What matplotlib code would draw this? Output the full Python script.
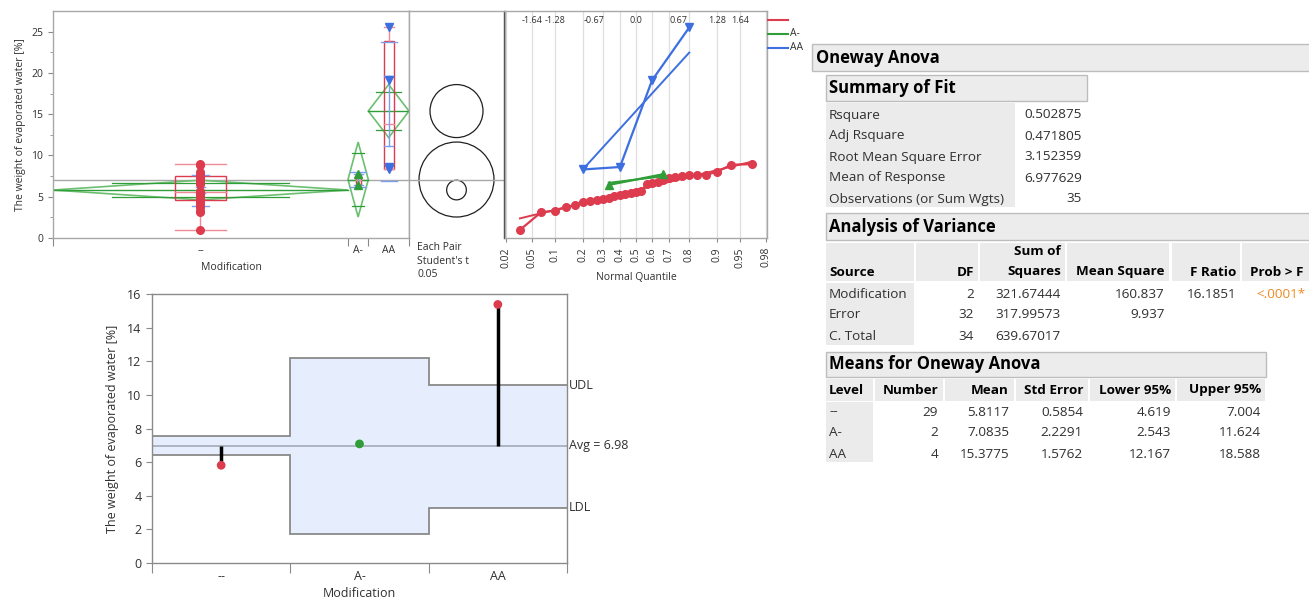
import numpy as np
import matplotlib
matplotlib.use("Agg")
import matplotlib.pyplot as plt
from matplotlib.patches import Rectangle, Circle, Polygon
from matplotlib.lines import Line2D
from statistics import NormalDist

plt.rcParams['font.family'] = ['Open Sans', 'DejaVu Sans']

W, H = 1309, 600

# raw data
levels = ["--", "A-", "AA"]
vals_none = [0.98, 3.11, 3.31, 3.71, 4.00, 4.40, 4.52, 4.64, 4.72, 4.84,
             5.12, 5.24, 5.36, 5.44, 5.57, 5.65, 6.54, 6.65, 6.78, 7.02,
             7.26, 7.42, 7.54, 7.62, 7.66, 7.66, 8.02, 8.87, 8.95]
vals_a = [6.43, 7.73]
vals_aa = [8.3, 8.6, 19.1, 25.51]
group_vals = [vals_none, vals_a, vals_aa]

# report tables
fit_labels = ["Rsquare", "Adj Rsquare", "Root Mean Square Error",
              "Mean of Response", "Observations (or Sum Wgts)"]
fit_values = ["0.502875", "0.471805", "3.152359", "6.977629", "35"]

anova_source = ["Modification", "Error", "C. Total"]
anova_df = ["2", "32", "34"]
anova_ss = ["321.67444", "317.99573", "639.67017"]
anova_ms = ["160.837", "9.937", ""]
anova_f = ["16.1851", "", ""]
anova_p = ["<.0001*", "", ""]

means_n = [29, 2, 4]
means_mean = [5.8117, 7.0835, 15.3775]
means_se = [0.5854, 2.2291, 1.5762]
means_lower = [4.619, 2.543, 12.167]
means_upper = [7.004, 11.624, 18.588]

grand_mean = 6.977629
t_crit = 2.037  # t(0.975, 32)

# decision limits
udl = [7.55, 12.22, 10.56]
ldl = [6.40, 1.70, 3.30]

RED = "#dc3c4e"
GREEN = "#2f9e38"
LGREEN = "#6cbf70"
BLUE = "#3d6fe0"
GRAY = "#8a8a8a"
LGRAY = "#a8a8a8"
TXT = "#303030"
CELL = "#ebebeb"

fig = plt.figure(figsize=(W / 100, H / 100), dpi=100)


def add_ax(x0, y0, x1, y1):
    return fig.add_axes([x0 / W, 1 - y1 / H, (x1 - x0) / W, (y1 - y0) / H])


def ftext(x, y, s, **kw):
    kw.setdefault("color", TXT)
    kw.setdefault("va", "center")
    fig.text(x / W, 1 - y / H, s, **kw)


def frect(x0, y0, x1, y1, fc, ec="none", lw=1.0):
    fig.add_artist(Rectangle((x0 / W, 1 - y1 / H), (x1 - x0) / W, (y1 - y0) / H,
                             transform=fig.transFigure, facecolor=fc,
                             edgecolor=ec, linewidth=lw))


def style_spines(ax, color=LGRAY):
    for s in ax.spines.values():
        s.set_color(color)
        s.set_linewidth(1.0)


YTOP = 27.5

# ---------------- means / box plot panel ----------------
ax1 = add_ax(53, 11, 409, 238)
edges = np.concatenate([[0], np.cumsum(means_n)])
centers = (edges[:-1] + edges[1:]) / 2
box_half = [2.5, 0.25, 0.5]
markers = ["o", "^", "v"]
pcolors = [RED, GREEN, BLUE]

ax1.axhline(grand_mean, color=LGRAY, lw=1.0, zorder=1)
for i, v in enumerate(group_vals):
    v = np.array(v)
    x0, x1, c = edges[i], edges[i + 1], centers[i]
    m, lo, up = means_mean[i], means_lower[i], means_upper[i]
    w = x1 - x0
    ax1.add_patch(Polygon([(x0, m), (c, up), (x1, m), (c, lo)], closed=True,
                          fill=False, edgecolor=LGREEN, lw=1.2, zorder=2))
    ax1.plot([x0, x1], [m, m], color=GREEN, lw=1.0, zorder=2)
    ov = (up - m) / np.sqrt(2)
    for yy in (m + ov, m - ov):
        ax1.plot([c - 0.3 * w, c + 0.3 * w], [yy, yy], color=GREEN, lw=0.9, zorder=2)
    # box plot
    q1, med, q3 = np.percentile(v, [25, 50, 75], method="weibull")
    hw = box_half[i]
    ax1.add_patch(Rectangle((c - hw, q1), 2 * hw, q3 - q1, fill=False,
                            edgecolor=RED, lw=1.0, zorder=3))
    ax1.plot([c - hw, c + hw], [med, med], color="#f08a96", lw=1.0, zorder=3)
    ax1.plot([c, c], [v.min(), q1], color="#f08a96", lw=1.0, zorder=3)
    ax1.plot([c, c], [q3, v.max()], color="#f08a96", lw=1.0, zorder=3)
    for yy in (v.min(), v.max()):
        ax1.plot([c - hw, c + hw], [yy, yy], color="#f08a96", lw=1.0, zorder=3)
    # std dev lines and mean error bars
    sd = v.std(ddof=1)
    se = sd / np.sqrt(len(v))
    for yy in (m - sd, m + sd):
        ax1.plot([c - 0.8, c + 0.8], [yy, yy], color="#7d9ff0", lw=1.0, zorder=4)
    ax1.plot([c, c], [m - se, m + se], color="#7d9ff0", lw=1.0, zorder=4)
    for yy in (m - se, m + se):
        ax1.plot([c - 0.45, c + 0.45], [yy, yy], color="#7d9ff0", lw=1.0, zorder=4)
    ax1.plot(np.full(len(v), c), v, linestyle="none", marker=markers[i],
             color=pcolors[i], ms=5.5, zorder=5)

ax1.set_xlim(0, edges[-1])
ax1.set_ylim(0, YTOP)
ax1.set_yticks(np.arange(0, 26, 5))
ax1.set_yticks(np.arange(0, 27, 2.5), minor=True)
ax1.set_xticks(edges)
ax1.set_xticklabels([])
ax1.set_xticks(centers, minor=True)
ax1.set_xticklabels(levels, minor=True)
ax1.tick_params(axis="x", which="major", length=6, color=GRAY)
ax1.tick_params(axis="x", which="minor", length=0, labelsize=7.5, labelcolor=TXT, pad=5)
ax1.tick_params(axis="y", which="both", labelsize=7.5, labelcolor=TXT, color=GRAY)
ax1.tick_params(axis="y", which="minor", length=2.5)
ax1.set_ylabel("The weight of evaporated water [%]", fontsize=7.5, color=TXT, labelpad=4)
ax1.set_xlabel("Modification", fontsize=7.5, color=TXT, labelpad=4)
style_spines(ax1)

# ---------------- comparison circles ----------------
ax2 = add_ax(409, 11, 504, 238)
xw = 95 * YTOP / 227
ax2.set_xlim(0, xw)
ax2.set_ylim(0, YTOP)
ax2.axhline(grand_mean, color=LGRAY, lw=1.0)
for i in range(3):
    ax2.add_patch(Circle((xw / 2, means_mean[i]), t_crit * means_se[i],
                         fill=False, edgecolor="#202020", lw=0.9))
ax2.set_xticks([])
ax2.set_yticks([])
style_spines(ax2)
ax2.spines["right"].set_color("#404040")
ax2.spines["bottom"].set_visible(False)
ftext(417, 247, "Each Pair", fontsize=7.5)
ftext(417, 261, "Student's t", fontsize=7.5)
ftext(418, 275, "0.05", fontsize=7.5)

# ---------------- normal quantile plot ----------------
nd = NormalDist()
ax3 = add_ax(505, 11, 767, 238)
probs = [0.02, 0.05, 0.1, 0.2, 0.3, 0.4, 0.5, 0.6, 0.7, 0.8, 0.9, 0.95, 0.98]
prob_z = [nd.inv_cdf(p) for p in probs]
for z in prob_z:
    ax3.axvline(z, color="#dedede", lw=0.9, zorder=0)
qlabels = ["-1.64", "-1.28", "-0.67", "0.0", "0.67", "1.28", "1.64"]
for s in qlabels:
    ax3.text(float(s), 0.958, s, transform=ax3.get_xaxis_transform(),
             ha="center", va="center", fontsize=6.5, color=TXT)
for i, v in enumerate(group_vals):
    v = np.sort(np.array(v))
    n = len(v)
    z = np.array([nd.inv_cdf(k / (n + 1)) for k in range(1, n + 1)])
    m, sd = v.mean(), v.std(ddof=1)
    ax3.plot([z[0], z[-1]], [m + sd * z[0], m + sd * z[-1]], color=pcolors[i], lw=1.4)
    ax3.plot(z, v, color=pcolors[i], marker=markers[i], ms=5.5, lw=1.6)
ax3.set_xlim(-2.07, 2.07)
ax3.set_ylim(0, YTOP)
ax3.set_yticks([])
ax3.set_xticks(prob_z)
ax3.set_xticklabels([f"{p:g}" for p in probs], rotation=90)
ax3.tick_params(axis="x", labelsize=7.5, labelcolor=TXT, color=GRAY, length=3)
ax3.set_xlabel("Normal Quantile", fontsize=7.5, color=TXT, labelpad=3)
style_spines(ax3)

for k, (lab, col) in enumerate(zip(["", "A-", "AA"], pcolors)):
    yy = 20 + 14 * k
    fig.add_artist(Line2D([768 / W, 788 / W], [1 - yy / H] * 2, color=col, lw=1.5,
                          transform=fig.transFigure))
    ftext(790, yy, lab, fontsize=7.5)

# ---------------- decision limit chart ----------------
ax4 = add_ax(152, 294, 567, 563)
gx = np.arange(len(levels) + 1)
ax4.stairs(udl, gx, baseline=ldl, fill=True, color="#e6edfc", zorder=0)
ax4.stairs(udl, gx, baseline=None, color=GRAY, lw=1.3, zorder=1)
ax4.stairs(ldl, gx, baseline=None, color=GRAY, lw=1.3, zorder=1)
ax4.axhline(grand_mean, color="#a9b0bd", lw=1.3, zorder=1)
gc = gx[:-1] + 0.5
ax4.vlines(gc, grand_mean, means_mean, color="black", lw=2.5, zorder=2)
dot_cols = [GREEN if lo <= m <= up else RED
            for m, lo, up in zip(means_mean, ldl, udl)]
ax4.scatter(gc, means_mean, c=dot_cols, s=28, zorder=3)
ax4.set_xlim(0, 3)
ax4.set_ylim(0, 16)
ax4.set_yticks(np.arange(0, 17, 2))
ax4.set_xticks(gx)
ax4.set_xticklabels([])
ax4.set_xticks(gc, minor=True)
ax4.set_xticklabels(levels, minor=True)
ax4.tick_params(axis="x", which="major", length=7, color=GRAY)
ax4.tick_params(axis="x", which="minor", length=0, labelsize=9, labelcolor=TXT, pad=5)
ax4.tick_params(axis="y", labelsize=9, labelcolor=TXT, color=GRAY, length=4)
ax4.set_ylabel("The weight of evaporated water [%]", fontsize=9, color=TXT, labelpad=6)
ax4.set_xlabel("Modification", fontsize=9, color=TXT, labelpad=3)
style_spines(ax4, GRAY)
ax4.text(1.004, udl[-1], "UDL", transform=ax4.get_yaxis_transform(),
         va="center", fontsize=9, color=TXT)
ax4.text(1.004, grand_mean, f"Avg = {grand_mean:.2f}", transform=ax4.get_yaxis_transform(),
         va="center", fontsize=9, color=TXT)
ax4.text(1.004, ldl[-1], "LDL", transform=ax4.get_yaxis_transform(),
         va="center", fontsize=9, color=TXT)

# ---------------- report tables ----------------
FS = 9.7
HFS = 12
frect(812, 44, 1312, 71, "#ececec", "#bdbdbd")
ftext(816, 58, "Oneway Anova", fontsize=HFS, weight="bold", color="black")

frect(826, 75, 1087, 101, "#ececec", "#bdbdbd")
ftext(829, 88, "Summary of Fit", fontsize=HFS, weight="bold", color="black")
frect(826, 103, 1015, 207, CELL)
for k, (lab, val) in enumerate(zip(fit_labels, fit_values)):
    yy = 115 + 21 * k
    ftext(829, yy, lab, fontsize=FS)
    ftext(1082, yy, val, fontsize=FS, ha="right")

frect(826, 213, 1312, 240, "#ececec", "#bdbdbd")
ftext(829, 227, "Analysis of Variance", fontsize=HFS, weight="bold", color="black")
for x0, x1 in [(826, 914), (916, 978), (980, 1065), (1067, 1169), (1172, 1240), (1242, 1312)]:
    frect(x0, 243, x1, 281, CELL)
hkw = dict(fontsize=FS, weight="bold", color="black")
ftext(829, 272, "Source", **hkw)
ftext(974, 272, "DF", ha="right", **hkw)
ftext(1061, 252, "Sum of", ha="right", **hkw)
ftext(1061, 272, "Squares", ha="right", **hkw)
ftext(1165, 272, "Mean Square", ha="right", **hkw)
ftext(1236, 272, "F Ratio", ha="right", **hkw)
ftext(1250, 272, "Prob > F", **hkw)
frect(826, 283, 914, 345, CELL)
for k in range(3):
    yy = 294 + 21 * k
    ftext(829, yy, anova_source[k], fontsize=FS)
    ftext(974, yy, anova_df[k], fontsize=FS, ha="right")
    ftext(1061, yy, anova_ss[k], fontsize=FS, ha="right")
    ftext(1165, yy, anova_ms[k], fontsize=FS, ha="right")
    ftext(1236, yy, anova_f[k], fontsize=FS, ha="right")
    ftext(1256, yy, anova_p[k], fontsize=FS, color="#ee8a22")

frect(826, 352, 1266, 377, "#ececec", "#bdbdbd")
ftext(829, 364, "Means for Oneway Anova", fontsize=HFS, weight="bold", color="black")
for x0, x1 in [(826, 873), (875, 943), (945, 1014), (1016, 1088), (1090, 1175), (1177, 1265)]:
    frect(x0, 379, x1, 401, CELL)
ftext(829, 390, "Level", **hkw)
ftext(938, 390, "Number", ha="right", **hkw)
ftext(1009, 390, "Mean", ha="right", **hkw)
ftext(1083, 390, "Std Error", ha="right", **hkw)
ftext(1171, 390, "Lower 95%", ha="right", **hkw)
ftext(1261, 390, "Upper 95%", ha="right", **hkw)
frect(826, 402, 873, 462, CELL)
for k in range(3):
    yy = 412 + 21 * k
    ftext(829, yy, levels[k], fontsize=FS)
    ftext(938, yy, str(means_n[k]), fontsize=FS, ha="right")
    ftext(1009, yy, f"{means_mean[k]:.4f}", fontsize=FS, ha="right")
    ftext(1083, yy, f"{means_se[k]:.4f}", fontsize=FS, ha="right")
    ftext(1171, yy, f"{means_lower[k]:.3f}", fontsize=FS, ha="right")
    ftext(1261, yy, f"{means_upper[k]:.3f}", fontsize=FS, ha="right")

fig.savefig("out.png", dpi=100)
